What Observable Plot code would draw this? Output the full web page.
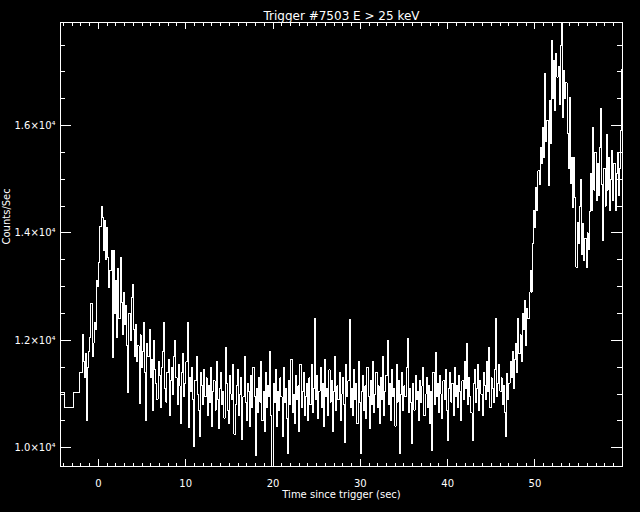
<!DOCTYPE html>
<html>
<head>
<meta charset="utf-8">
<script src="https://cdn.jsdelivr.net/npm/d3@7"></script>
<script src="https://cdn.jsdelivr.net/npm/@observablehq/plot@0.6"></script>
<style>
  html, body { margin: 0; padding: 0; background: #000; }
  svg { display: block; }
</style>
</head>
<body>
<div id="chart"></div>
<script>
// ---- text ----
const titleText = "Trigger #7503 E > 25 keV";
const xLabelText = "Time since trigger (sec)";
const yLabelText = "Counts/Sec";

// ---- axes ----
const xDomain = [-4.34, 60.03];
const yDomain = [9650, 17920];
const xMajorTicks = [0, 10, 20, 30, 40, 50];
const xMinorTicks = d3.range(-4, 61, 1);
const yMajorTicks = [10000, 12000, 14000, 16000];
const yMinorTicks = d3.range(10000, 18000, 500);

// ---- data: coarse pre-trigger bins (bin centres, counts/s) ----
const coarseTimes = [-4.34, -3.32, -2.30];
const coarseCounts = [11030, 10750, 11030];

// ---- data: fine bins (start time, bin width, counts/s) ----
const fineStart = -1.94;
const fineStep = 0.128;
const fineCounts = [
  // -1.9 .. 0
  11400, 12110, 11600, 11300, 11750, 10510, 11500, 11800, 12050, 12690,
  11700, 11950, 12340, 12200, 13115, 13000,
  // first peak
  13450, 14120, 14490, 14290, 13680, 14230, 13500, 14100,
  13550, 12990, 13300, 13680, 11680, 13680, 12500, 13120, 12060,
  13340, 12400, 13550, 12700, 12100, 12900, 12300, 12650, 11900, 11035,
  12500, 12000, 12800, 13040, 12200, 11700,
  12300, 11600, 11900, 10830, 12100, 11500, 11800, 12330, 11400, 10510,
  11950, 11700, 12200, 11300, 11650, 10700, 12000, 11450,
  // 6.6 .. 12.1
  11200, 10900, 11600, 11350, 10750, 11500, 11800, 12330, 11100, 10850,
  11400, 11650, 10600, 11250, 11500, 11000, 11700, 12000, 11300, 10800,
  11550, 11150, 10450, 11400, 11750, 10950, 11200, 11600, 12330, 10380,
  11300, 11050, 11500, 10900, 10030, 11250, 11700, 11000, 10700, 10200,
  11400, 11150, 10800, 11450,
  // 12.3 .. 24.0
  10950, 11300, 10600, 11150, 10850, 11500, 10400, 11050, 11250, 10700,
  11600, 10900, 10350, 11100, 11400, 10800, 11050, 10550, 11870, 11200,
  10700, 10450, 11350, 11000, 10900, 11550, 10250, 10800, 11150, 11450,
  10600, 11000, 11300, 10150, 10950, 11700, 10850, 10500, 11200, 11050,
  10400, 11350, 10750, 11500, 10950, 9860, 11100, 10650, 11300, 10850,
  11600, 10500, 11050, 10300, 11400, 10750, 11150, 10950, 11800, 10600,
  9650, 11200, 10850, 11450, 10400, 11050, 10700, 11300, 10950, 10200,
  11500, 10850, 11100, 10550, 9900, 11250, 10800, 11650, 10650, 11000,
  10450, 11350, 10900, 11150, 10300, 11550, 10750, 11050, 11400, 10600,
  10950, 11200, 10500,
  // 24.2 .. 36.0
  11300, 10800, 11550, 10650, 11100, 12400, 10900,
  11350, 10550, 11050, 11500, 10750, 11200, 10400, 11650, 10950, 11100,
  10600, 11450, 10850, 11250, 10300, 11050, 11700, 10700, 11150, 10900,
  11400, 10500, 11000, 11300, 10800, 10100, 11550, 10950, 11250, 12390,
  10750, 11100, 10600, 11450, 10900, 11200, 10450, 11600, 10850, 9900,
  11050, 11350, 10700, 11150, 10550, 11500, 10950, 10350, 11250, 10800,
  11600, 10650, 11000, 11400, 10750, 11150, 10450, 11300, 10900, 11700,
  10600, 11050, 11350, 12000, 10800, 11200, 10500, 11450, 10950, 11100,
  10400, 11550, 10850, 11250, 9900, 11000, 11400, 10700, 11150, 10950,
  11500, 12030, 10650, 11100, 10850, 10080,
  // 36.1 .. 45.9
  11200, 10700, 11350, 10900, 11050, 10500, 11250, 10850, 11150, 11500,
  10600, 11000, 11300, 10750, 11150, 10450, 11050, 9950, 11400, 10800,
  11780, 10950, 11200, 10650, 11350, 11000, 10550, 11250, 10900, 11450,
  10700, 10140, 11100, 11400, 10850, 11200, 10600, 11500, 10950, 11150,
  10750, 11350, 11050, 10500, 11250, 10900, 11600, 11100, 11940, 10800,
  11300, 10950, 10650, 10140, 11200, 11450, 10850, 11100, 11550, 10700,
  11250, 11000, 10600, 11400, 11150, 10900, 11600, 11050, 11870, 10750,
  11300, 11100, 10850, 11450, 12400, 10950, 11200, 11550,
  // 46.1 .. 50.0 (rise)
  11050, 11300, 10800, 11150, 10650, 10200, 11380, 10900, 11200, 11600,
  11300, 11800, 11100, 11650, 11940, 11400, 12400, 11750,
  12100, 11600, 12500, 12200, 12750, 11900, 12600, 12400, 12900,
  13300, 12900, 13800, 14420, 14100,
  // second peak
  14850, 14420, 15160, 14900, 15590, 15300,
  15960, 15400, 16970, 15700, 16100,
  14880, 16470, 15660, 17585,
  16500, 17220, 16280, 17340, 16900, 17100, 16400, 17500,
  17925,
  16150, 17030, 16500, 16800, 15850,
  15200, 16530, 14920, 15400,
  14470, 15410,
  14660, 13360, 14200, 13800, 14500, 15000, 13600,
  14170, 13490, 13900, 13360, 14000, 13700, 14400,
  15100, 14420, 15970, 14800, 15500, 14600,
  15300, 14700, 15600, 16320, 14900, 13860, 15200, 14500, 15840, 14800, 15400, 14420,
  15000, 15540, 14600, 15300, 14420, 15100, 15500, 14700, 15200,
  15900, 17050
];

const series = [
  ...coarseTimes.map((t, i) => ({t, c: coarseCounts[i]})),
  ...fineCounts.map((c, i) => ({t: fineStart + i * fineStep, c}))
];

// ---- layout ----
const W = 640, H = 512;
const mL = 60, mR = 18, mT = 22, mB = 46;
const pw = W - mL - mR, ph = H - mT - mB;
const xMajLen = 7, xMinLen = 3.5, yMajLen = 11, yMinLen = 5;

const fmtY = d => (d / 1e4).toFixed(1) + "\u00d710\u2074";
const white = "white";
const crisp = {stroke: white, shapeRendering: "crispEdges"};

const chart = Plot.plot({
  width: W, height: H,
  marginLeft: mL, marginRight: mR, marginTop: mT, marginBottom: mB,
  style: {background: "black", color: "white", fontFamily: "DejaVu Sans, sans-serif", fontSize: "10px"},
  x: {domain: xDomain, axis: null},
  y: {domain: yDomain, axis: null},
  marks: [
    Plot.line(series, {x: "t", y: "c", curve: "step", stroke: white, strokeWidth: 1, shapeRendering: "crispEdges", clip: true}),
    Plot.frame(crisp),
    // x ticks bottom/top
    Plot.ruleX(xMinorTicks, {x: d => d, ...crisp, insetTop: ph - xMinLen}),
    Plot.ruleX(xMinorTicks, {x: d => d, ...crisp, insetBottom: ph - xMinLen}),
    Plot.ruleX(xMajorTicks, {x: d => d, ...crisp, insetTop: ph - xMajLen}),
    Plot.ruleX(xMajorTicks, {x: d => d, ...crisp, insetBottom: ph - xMajLen}),
    // y ticks left/right
    Plot.ruleY(yMinorTicks, {y: d => d, ...crisp, insetRight: pw - yMinLen}),
    Plot.ruleY(yMinorTicks, {y: d => d, ...crisp, insetLeft: pw - yMinLen}),
    Plot.ruleY(yMajorTicks, {y: d => d, ...crisp, insetRight: pw - yMajLen}),
    Plot.ruleY(yMajorTicks, {y: d => d, ...crisp, insetLeft: pw - yMajLen}),
    // tick labels
    Plot.text(xMajorTicks, {x: d => d, frameAnchor: "bottom", dy: 20, text: d => String(d), fill: white, fontSize: 10}),
    Plot.text(yMajorTicks, {y: d => d, frameAnchor: "left", dx: -5, textAnchor: "end", text: fmtY, fill: white, fontSize: 10}),
    // titles
    Plot.text([titleText], {frameAnchor: "top", dy: -11, text: d => d, fill: white, fontSize: 12}),
    Plot.text([xLabelText], {frameAnchor: "bottom", dy: 31, text: d => d, fill: white, fontSize: 10}),
    Plot.text([yLabelText], {frameAnchor: "left", dx: -54, rotate: -90, text: d => d, fill: white, fontSize: 10})
  ]
});
document.getElementById("chart").appendChild(chart);
</script>
</body>
</html>
